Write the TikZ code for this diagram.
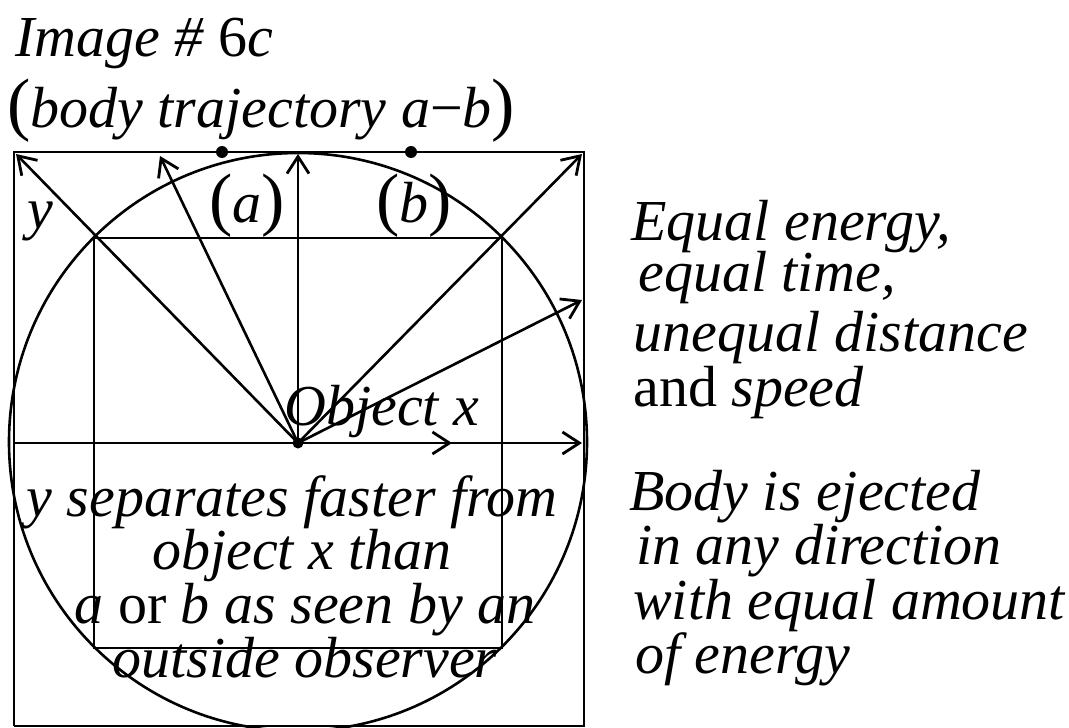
\documentclass[tikz,border=0pt]{standalone}
\usepackage{fontspec}
\setmainfont{Liberation Serif}
\usetikzlibrary{arrows.meta}

\newcommand{\bigpar}[1]{{\fontsize{70}{70}\selectfont\upshape#1}}

\begin{document}
\begin{tikzpicture}[x=1pt, y=-1pt, line width=2.6pt,
    every node/.style={inner sep=0pt, font=\fontsize{58}{62}\selectfont\itshape},
    txt/.style={anchor=base west},
    mid/.style={anchor=base},
    ray/.style={-{Straight Barb[length=17pt,width=22pt,line width=2.8pt]}},
    dot/.style={circle, fill, minimum size=12pt}]
    \useasboundingbox (0,0) rectangle (1069,728);
    % frame, circle and inner square
    \coordinate (TL) at (14,152);
    \coordinate (TR) at (584,152);
    \coordinate (BL) at (14,726);
    \coordinate (BR) at (584,726);
    \coordinate (O) at (298,443);
    \coordinate (L) at (14,443);
    \draw (BL) -- (TL) -- (TR) -- (BR) -- (BL);
    \draw (298,442) circle[radius=289];
    \draw (94,238) rectangle (502,648);
    \draw (L) -- (O);
    \foreach \i/\x/\y in {1/16/154,2/160/156,3/298/154,4/582/154,5/582/300,6/452/443,7/582/443} {
        \coordinate (e\i) at (\x,\y);
        \draw[ray] (O) -- (e\i);
    }
    \fill (O) circle[radius=5.5];
    \node[dot] (a) at (222,152) {};
    \node[dot] (b) at (411,152) {};
    % labels
    \node[txt] (title) at (14,56) {Image \# \upshape 6\itshape c};
    \node[txt] (sub) at (6,127) {\bigpar{(}body trajectory a{\upshape −}b\bigpar{)}};
    \node[mid] (la) at (247,222) {\bigpar{(}a\bigpar{)}};
    \node[mid] (lb) at (414,222) {\bigpar{(}b\bigpar{)}};
    \node[txt] (y) at (26,228) {y};
    \node[txt] (obj) at (283,425) {Object x};
    \node[mid] (n1) at (292,516) {y separates faster from};
    \node[mid] (n2) at (302,569) {object x than};
    \node[mid] (n3) at (305,623) {a {\upshape or} b as seen by an};
    \node[mid] (n4) at (305,677) {outside observer};
    \node[txt] (r1) at (630,240) {Equal energy,};
    \node[txt] (r2) at (637,291) {equal time,};
    \node[txt] (r3) at (632,351) {unequal distance};
    \node[txt] (r4) at (632,406) {{\upshape and} speed};
    \node[txt] (r5) at (628,510) {Body is ejected};
    \node[txt] (r6) at (635,564) {in any direction};
    \node[txt] (r7) at (632,619) {with equal amount};
    \node[txt] (r8) at (634,673) {of energy};
\end{tikzpicture}
\end{document}
